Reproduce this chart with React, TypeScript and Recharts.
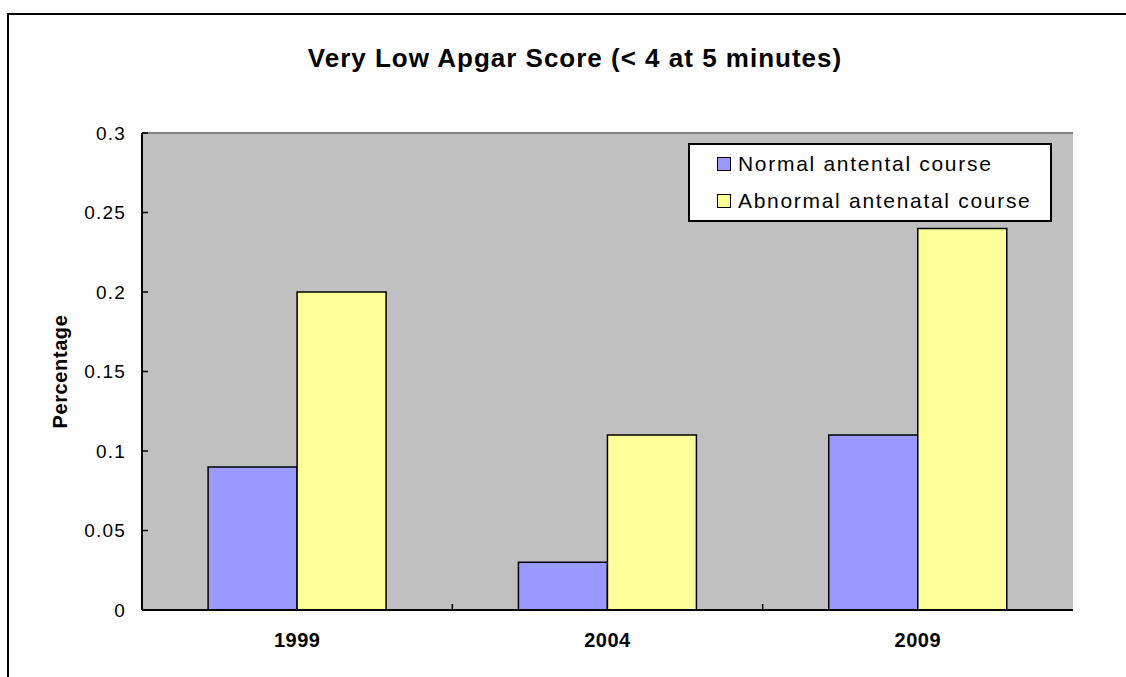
import { BarChart, Bar, XAxis, YAxis, CartesianGrid, ReferenceLine } from 'recharts';

const years = ['1999', '2004', '2009'];
const normalCourse = [0.09, 0.03, 0.11];
const abnormalCourse = [0.2, 0.11, 0.24];
const yTicks = [0, 0.05, 0.1, 0.15, 0.2, 0.25, 0.3];

const seriesNames = ['Normal antental course', 'Abnormal antenatal course'];
const colors = ['#9999FF', '#FFFF99'];

const data = years.map((y, i) => ({
  year: y,
  normal: normalCourse[i],
  abnormal: abnormalCourse[i],
}));

const font = '"Liberation Sans", Arial, sans-serif';

function LegendBox() {
  return (
    <div
      style={{
        position: 'absolute',
        left: 688,
        top: 143,
        width: 364,
        height: 79,
        boxSizing: 'border-box',
        border: '2px solid #000',
        background: '#fff',
        fontFamily: font,
        fontSize: 21,
        letterSpacing: 1.7,
        color: '#000',
        paddingLeft: 27,
        paddingTop: 0,
        textAlign: 'left',
      }}
    >
      {seriesNames.map((name, i) => (
        <div key={name} style={{ display: 'flex', alignItems: 'center', height: 37 }}>
          <span
            style={{
              display: 'inline-block',
              width: 14,
              height: 14,
              boxSizing: 'border-box',
              border: '1.5px solid #000',
              background: colors[i],
              marginRight: 7,
            }}
          />
          <span>{name}</span>
        </div>
      ))}
    </div>
  );
}

// category label plus an inside tick mark at the right edge of the band
function XTick(props: any) {
  const { x, y, payload, index, visibleTicksCount } = props;
  const axisY = y - 23;
  const edge = x + payload.offset;
  return (
    <g>
      {index < visibleTicksCount - 1 && (
        <line x1={edge} x2={edge} y1={axisY} y2={axisY - 6} stroke="#000" strokeWidth={1.5} />
      )}
      <text
        x={x}
        y={y}
        dy="0.71em"
        textAnchor="middle"
        fill="#000"
        fontFamily={font}
        fontWeight="bold"
        fontSize={20}
        letterSpacing={0.5}
      >
        {payload.value}
      </text>
    </g>
  );
}

function YTick(props: any) {
  const { x, y, payload } = props;
  const axisX = x + 16;
  return (
    <g>
      <line x1={axisX} x2={axisX + 6} y1={y} y2={y} stroke="#000" strokeWidth={1.5} />
      <text
        x={x}
        y={y}
        dy="0.36em"
        textAnchor="end"
        fill="#000"
        fontFamily={font}
        fontSize={19}
        letterSpacing={1.2}
      >
        {payload.value}
      </text>
    </g>
  );
}

export default function App() {
  return (
    <div style={{ position: 'absolute', left: 0, top: 0, width: 1126, height: 677, overflow: 'hidden', background: '#fff' }}>
      <div
        style={{
          position: 'absolute',
          left: 7,
          top: 13,
          width: 1140,
          height: 700,
          border: '2px solid #000',
        }}
      />
      <div
        style={{
          position: 'absolute',
          left: 0,
          top: 43,
          width: 1150,
          textAlign: 'center',
          fontFamily: font,
          fontWeight: 'bold',
          fontSize: 26,
          letterSpacing: 1,
        }}
      >
        Very Low Apgar Score (&lt; 4 at 5 minutes)
      </div>
      <div style={{ position: 'absolute', left: 0, top: 0 }}>
        <BarChart
          width={1126}
          height={677}
          data={data}
          margin={{ top: 133, right: 53, bottom: 37, left: 82 }}
          barCategoryGap="21.3%"
          barGap={0}
        >
          <CartesianGrid fill="#C0C0C0" horizontal={false} vertical={false} />
          <XAxis
            dataKey="year"
            height={30}
            axisLine={{ stroke: '#000', strokeWidth: 2 }}
            tickLine={false}
            tickSize={0}
            tickMargin={23}
            tick={<XTick />}
          />
          <YAxis
            width={60}
            domain={[0, 0.3]}
            ticks={yTicks}
            interval={0}
            axisLine={{ stroke: '#000', strokeWidth: 2 }}
            tickLine={false}
            tickSize={0}
            tickMargin={16}
            tick={<YTick />}
            label={{
              value: 'Percentage',
              angle: -90,
              position: 'insideLeft',
              offset: -22,
              style: { fill: '#000', fontFamily: font, fontWeight: 'bold', fontSize: 20, letterSpacing: 0.6, textAnchor: 'middle' },
            }}
          />
          <YAxis
            yAxisId="r"
            orientation="right"
            width={0}
            domain={[0, 0.3]}
            tick={false}
            tickLine={false}
            axisLine={{ stroke: '#808080', strokeWidth: 2 }}
          />
          <ReferenceLine y={0.3} stroke="#808080" strokeWidth={2} />
          <Bar dataKey="normal" name={seriesNames[0]} fill={colors[0]} stroke="#000" strokeWidth={1.5} isAnimationActive={false} />
          <Bar dataKey="abnormal" name={seriesNames[1]} fill={colors[1]} stroke="#000" strokeWidth={1.5} isAnimationActive={false} />
        </BarChart>
      </div>
      <LegendBox />
    </div>
  );
}
